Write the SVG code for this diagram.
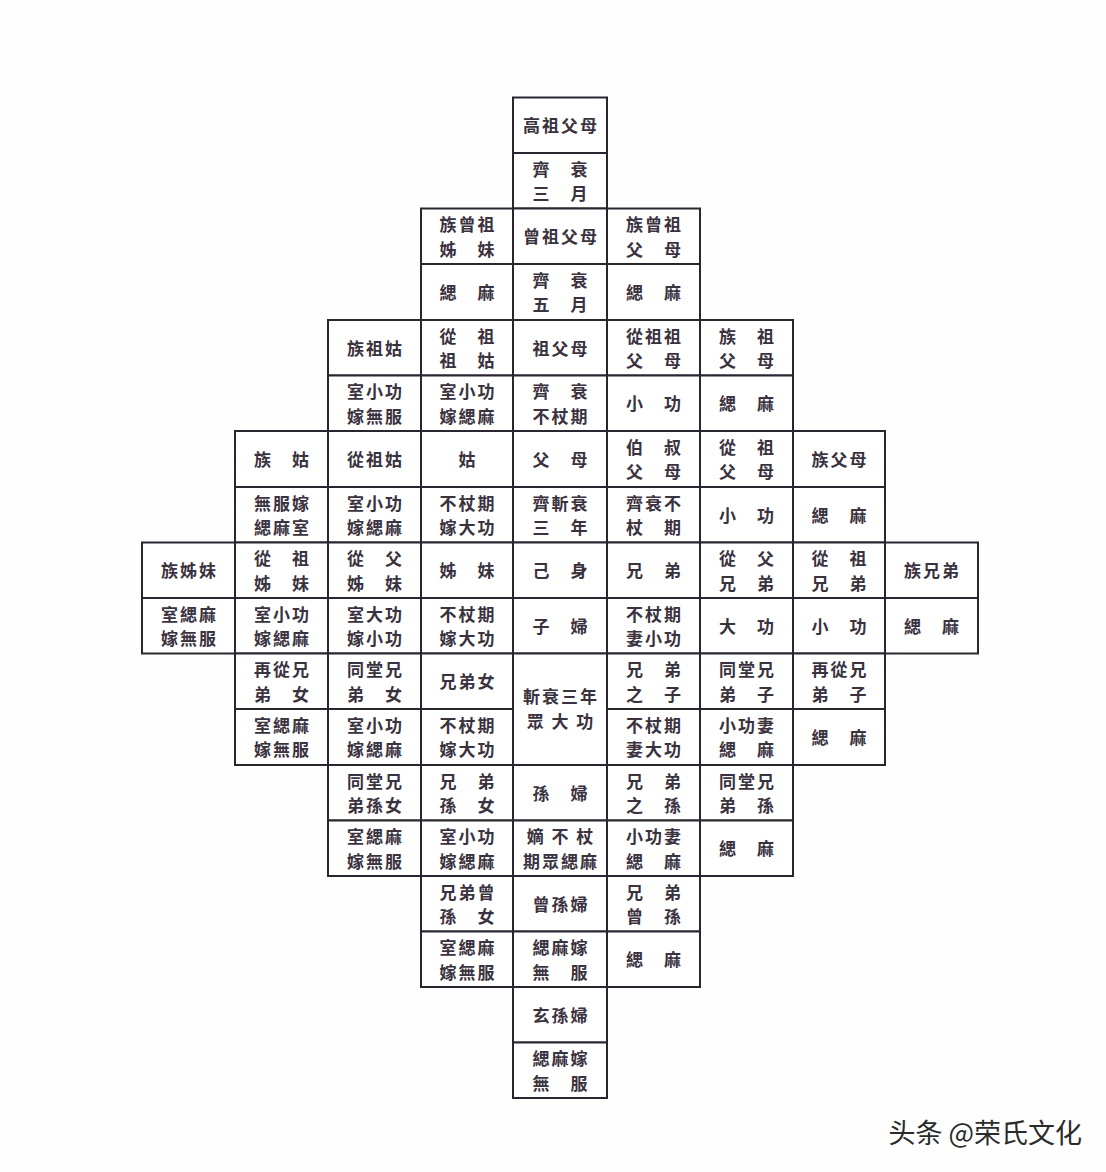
<svg xmlns="http://www.w3.org/2000/svg" width="1106" height="1172" viewBox="0 0 1106 1172">
<style>
.cell rect{fill:#fff;stroke:#2b2530;stroke-width:2}
.cell text{font-family:"Noto Sans CJK TC","Noto Sans CJK JP",sans-serif;font-size:17px;letter-spacing:2px;font-weight:700;text-anchor:middle;fill:#3a323e}
.wm{font-family:"Noto Sans CJK SC",sans-serif;font-size:27px;fill:#2a2a2a;text-anchor:end}
</style>
<rect width="1106" height="1172" fill="#fefefe"/>
<g id="chart">
<g id="r0c4" class="cell"><rect x="513" y="97.5" width="94" height="55.5"/><text x="561" y="132">高祖父母</text></g>
<g id="r1c4" class="cell"><rect x="513" y="153" width="94" height="55.5"/><text x="561" y="175.5">齊　衰<tspan x="561" dy="24.8">三　月</tspan></text></g>

<g id="r2c3" class="cell"><rect x="421" y="208.5" width="92" height="55.5"/><text x="468" y="231">族曾祖<tspan x="468" dy="24.8">姊　妹</tspan></text></g>
<g id="r2c4" class="cell"><rect x="513" y="208.5" width="94" height="55.5"/><text x="561" y="243">曾祖父母</text></g>
<g id="r2c5" class="cell"><rect x="607" y="208.5" width="93" height="55.5"/><text x="654.5" y="231">族曾祖<tspan x="654.5" dy="24.8">父　母</tspan></text></g>
<g id="r3c3" class="cell"><rect x="421" y="264" width="92" height="56"/><text x="468" y="298.5">緦　麻</text></g>
<g id="r3c4" class="cell"><rect x="513" y="264" width="94" height="56"/><text x="561" y="286.5">齊　衰<tspan x="561" dy="24.8">五　月</tspan></text></g>
<g id="r3c5" class="cell"><rect x="607" y="264" width="93" height="56"/><text x="654.5" y="298.5">緦　麻</text></g>

<g id="r4c2" class="cell"><rect x="328" y="320" width="93" height="55.5"/><text x="375.5" y="354.5">族祖姑</text></g>
<g id="r4c3" class="cell"><rect x="421" y="320" width="92" height="55.5"/><text x="468" y="342.5">從　祖<tspan x="468" dy="24.8">祖　姑</tspan></text></g>
<g id="r4c4" class="cell"><rect x="513" y="320" width="94" height="55.5"/><text x="561" y="354.5">祖父母</text></g>
<g id="r4c5" class="cell"><rect x="607" y="320" width="93" height="55.5"/><text x="654.5" y="342.5">從祖祖<tspan x="654.5" dy="24.8">父　母</tspan></text></g>
<g id="r4c6" class="cell"><rect x="700" y="320" width="93" height="55.5"/><text x="747.5" y="342.5">族　祖<tspan x="747.5" dy="24.8">父　母</tspan></text></g>
<g id="r5c2" class="cell"><rect x="328" y="375.5" width="93" height="55.5"/><text x="375.5" y="398">室小功<tspan x="375.5" dy="24.8">嫁無服</tspan></text></g>
<g id="r5c3" class="cell"><rect x="421" y="375.5" width="92" height="55.5"/><text x="468" y="398">室小功<tspan x="468" dy="24.8">嫁緦麻</tspan></text></g>
<g id="r5c4" class="cell"><rect x="513" y="375.5" width="94" height="55.5"/><text x="561" y="398">齊　衰<tspan x="561" dy="24.8">不杖期</tspan></text></g>
<g id="r5c5" class="cell"><rect x="607" y="375.5" width="93" height="55.5"/><text x="654.5" y="410">小　功</text></g>
<g id="r5c6" class="cell"><rect x="700" y="375.5" width="93" height="55.5"/><text x="747.5" y="410">緦　麻</text></g>

<g id="r6c1" class="cell"><rect x="235" y="431" width="93" height="56"/><text x="282.5" y="465.5">族　姑</text></g>
<g id="r6c2" class="cell"><rect x="328" y="431" width="93" height="56"/><text x="375.5" y="465.5">從祖姑</text></g>
<g id="r6c3" class="cell"><rect x="421" y="431" width="92" height="56"/><text x="468" y="465.5">姑</text></g>
<g id="r6c4" class="cell"><rect x="513" y="431" width="94" height="56"/><text x="561" y="465.5">父　母</text></g>
<g id="r6c5" class="cell"><rect x="607" y="431" width="93" height="56"/><text x="654.5" y="453.5">伯　叔<tspan x="654.5" dy="24.8">父　母</tspan></text></g>
<g id="r6c6" class="cell"><rect x="700" y="431" width="93" height="56"/><text x="747.5" y="453.5">從　祖<tspan x="747.5" dy="24.8">父　母</tspan></text></g>
<g id="r6c7" class="cell"><rect x="793" y="431" width="92" height="56"/><text x="840" y="465.5">族父母</text></g>
<g id="r7c1" class="cell"><rect x="235" y="487" width="93" height="55.5"/><text x="282.5" y="509.5">無服嫁<tspan x="282.5" dy="24.8">緦麻室</tspan></text></g>
<g id="r7c2" class="cell"><rect x="328" y="487" width="93" height="55.5"/><text x="375.5" y="509.5">室小功<tspan x="375.5" dy="24.8">嫁緦麻</tspan></text></g>
<g id="r7c3" class="cell"><rect x="421" y="487" width="92" height="55.5"/><text x="468" y="509.5">不杖期<tspan x="468" dy="24.8">嫁大功</tspan></text></g>
<g id="r7c4" class="cell"><rect x="513" y="487" width="94" height="55.5"/><text x="561" y="509.5">齊斬衰<tspan x="561" dy="24.8">三　年</tspan></text></g>
<g id="r7c5" class="cell"><rect x="607" y="487" width="93" height="55.5"/><text x="654.5" y="509.5">齊衰不<tspan x="654.5" dy="24.8">杖　期</tspan></text></g>
<g id="r7c6" class="cell"><rect x="700" y="487" width="93" height="55.5"/><text x="747.5" y="521.5">小　功</text></g>
<g id="r7c7" class="cell"><rect x="793" y="487" width="92" height="55.5"/><text x="840" y="521.5">緦　麻</text></g>

<g id="r8c0" class="cell"><rect x="142" y="542.5" width="93" height="55.5"/><text x="189.5" y="577">族姊妹</text></g>
<g id="r8c1" class="cell"><rect x="235" y="542.5" width="93" height="55.5"/><text x="282.5" y="565">從　祖<tspan x="282.5" dy="24.8">姊　妹</tspan></text></g>
<g id="r8c2" class="cell"><rect x="328" y="542.5" width="93" height="55.5"/><text x="375.5" y="565">從　父<tspan x="375.5" dy="24.8">姊　妹</tspan></text></g>
<g id="r8c3" class="cell"><rect x="421" y="542.5" width="92" height="55.5"/><text x="468" y="577">姊　妹</text></g>
<g id="r8c4" class="cell"><rect x="513" y="542.5" width="94" height="55.5"/><text x="561" y="577">己　身</text></g>
<g id="r8c5" class="cell"><rect x="607" y="542.5" width="93" height="55.5"/><text x="654.5" y="577">兄　弟</text></g>
<g id="r8c6" class="cell"><rect x="700" y="542.5" width="93" height="55.5"/><text x="747.5" y="565">從　父<tspan x="747.5" dy="24.8">兄　弟</tspan></text></g>
<g id="r8c7" class="cell"><rect x="793" y="542.5" width="92" height="55.5"/><text x="840" y="565">從　祖<tspan x="840" dy="24.8">兄　弟</tspan></text></g>
<g id="r8c8" class="cell"><rect x="885" y="542.5" width="93" height="55.5"/><text x="932.5" y="577">族兄弟</text></g>
<g id="r9c0" class="cell"><rect x="142" y="598" width="93" height="55.5"/><text x="189.5" y="620.5">室緦麻<tspan x="189.5" dy="24.8">嫁無服</tspan></text></g>
<g id="r9c1" class="cell"><rect x="235" y="598" width="93" height="55.5"/><text x="282.5" y="620.5">室小功<tspan x="282.5" dy="24.8">嫁緦麻</tspan></text></g>
<g id="r9c2" class="cell"><rect x="328" y="598" width="93" height="55.5"/><text x="375.5" y="620.5">室大功<tspan x="375.5" dy="24.8">嫁小功</tspan></text></g>
<g id="r9c3" class="cell"><rect x="421" y="598" width="92" height="55.5"/><text x="468" y="620.5">不杖期<tspan x="468" dy="24.8">嫁大功</tspan></text></g>
<g id="r9c4" class="cell"><rect x="513" y="598" width="94" height="55.5"/><text x="561" y="632.5">子　婦</text></g>
<g id="r9c5" class="cell"><rect x="607" y="598" width="93" height="55.5"/><text x="654.5" y="620.5">不杖期<tspan x="654.5" dy="24.8">妻小功</tspan></text></g>
<g id="r9c6" class="cell"><rect x="700" y="598" width="93" height="55.5"/><text x="747.5" y="632.5">大　功</text></g>
<g id="r9c7" class="cell"><rect x="793" y="598" width="92" height="55.5"/><text x="840" y="632.5">小　功</text></g>
<g id="r9c8" class="cell"><rect x="885" y="598" width="93" height="55.5"/><text x="932.5" y="632.5">緦　麻</text></g>

<g id="r10c1" class="cell"><rect x="235" y="653.5" width="93" height="55.5"/><text x="282.5" y="676">再從兄<tspan x="282.5" dy="24.8">弟　女</tspan></text></g>
<g id="r10c2" class="cell"><rect x="328" y="653.5" width="93" height="55.5"/><text x="375.5" y="676">同堂兄<tspan x="375.5" dy="24.8">弟　女</tspan></text></g>
<g id="r10c3" class="cell"><rect x="421" y="653.5" width="92" height="55.5"/><text x="468" y="688">兄弟女</text></g>
<g id="r10c4" class="cell"><rect x="513" y="653.5" width="94" height="111.5"/><text x="561" y="703">斬衰三年<tspan x="561" dy="24.8">眾 大 功</tspan></text></g>
<g id="r10c5" class="cell"><rect x="607" y="653.5" width="93" height="55.5"/><text x="654.5" y="676">兄　弟<tspan x="654.5" dy="24.8">之　子</tspan></text></g>
<g id="r10c6" class="cell"><rect x="700" y="653.5" width="93" height="55.5"/><text x="747.5" y="676">同堂兄<tspan x="747.5" dy="24.8">弟　子</tspan></text></g>
<g id="r10c7" class="cell"><rect x="793" y="653.5" width="92" height="55.5"/><text x="840" y="676">再從兄<tspan x="840" dy="24.8">弟　子</tspan></text></g>
<g id="r11c1" class="cell"><rect x="235" y="709" width="93" height="56"/><text x="282.5" y="731.5">室緦麻<tspan x="282.5" dy="24.8">嫁無服</tspan></text></g>
<g id="r11c2" class="cell"><rect x="328" y="709" width="93" height="56"/><text x="375.5" y="731.5">室小功<tspan x="375.5" dy="24.8">嫁緦麻</tspan></text></g>
<g id="r11c3" class="cell"><rect x="421" y="709" width="92" height="56"/><text x="468" y="731.5">不杖期<tspan x="468" dy="24.8">嫁大功</tspan></text></g>
<g id="r11c5" class="cell"><rect x="607" y="709" width="93" height="56"/><text x="654.5" y="731.5">不杖期<tspan x="654.5" dy="24.8">妻大功</tspan></text></g>
<g id="r11c6" class="cell"><rect x="700" y="709" width="93" height="56"/><text x="747.5" y="731.5">小功妻<tspan x="747.5" dy="24.8">緦　麻</tspan></text></g>
<g id="r11c7" class="cell"><rect x="793" y="709" width="92" height="56"/><text x="840" y="743.5">緦　麻</text></g>

<g id="r12c2" class="cell"><rect x="328" y="765" width="93" height="55.5"/><text x="375.5" y="787.5">同堂兄<tspan x="375.5" dy="24.8">弟孫女</tspan></text></g>
<g id="r12c3" class="cell"><rect x="421" y="765" width="92" height="55.5"/><text x="468" y="787.5">兄　弟<tspan x="468" dy="24.8">孫　女</tspan></text></g>
<g id="r12c4" class="cell"><rect x="513" y="765" width="94" height="55.5"/><text x="561" y="799.5">孫　婦</text></g>
<g id="r12c5" class="cell"><rect x="607" y="765" width="93" height="55.5"/><text x="654.5" y="787.5">兄　弟<tspan x="654.5" dy="24.8">之　孫</tspan></text></g>
<g id="r12c6" class="cell"><rect x="700" y="765" width="93" height="55.5"/><text x="747.5" y="787.5">同堂兄<tspan x="747.5" dy="24.8">弟　孫</tspan></text></g>
<g id="r13c2" class="cell"><rect x="328" y="820.5" width="93" height="55.5"/><text x="375.5" y="843">室緦麻<tspan x="375.5" dy="24.8">嫁無服</tspan></text></g>
<g id="r13c3" class="cell"><rect x="421" y="820.5" width="92" height="55.5"/><text x="468" y="843">室小功<tspan x="468" dy="24.8">嫁緦麻</tspan></text></g>
<g id="r13c4" class="cell"><rect x="513" y="820.5" width="94" height="55.5"/><text x="561" y="843">嫡 不 杖<tspan x="561" dy="24.8">期眾緦麻</tspan></text></g>
<g id="r13c5" class="cell"><rect x="607" y="820.5" width="93" height="55.5"/><text x="654.5" y="843">小功妻<tspan x="654.5" dy="24.8">緦　麻</tspan></text></g>
<g id="r13c6" class="cell"><rect x="700" y="820.5" width="93" height="55.5"/><text x="747.5" y="855">緦　麻</text></g>

<g id="r14c3" class="cell"><rect x="421" y="876" width="92" height="55.5"/><text x="468" y="898.5">兄弟曾<tspan x="468" dy="24.8">孫　女</tspan></text></g>
<g id="r14c4" class="cell"><rect x="513" y="876" width="94" height="55.5"/><text x="561" y="910.5">曾孫婦</text></g>
<g id="r14c5" class="cell"><rect x="607" y="876" width="93" height="55.5"/><text x="654.5" y="898.5">兄　弟<tspan x="654.5" dy="24.8">曾　孫</tspan></text></g>
<g id="r15c3" class="cell"><rect x="421" y="931.5" width="92" height="55.5"/><text x="468" y="954">室緦麻<tspan x="468" dy="24.8">嫁無服</tspan></text></g>
<g id="r15c4" class="cell"><rect x="513" y="931.5" width="94" height="55.5"/><text x="561" y="954">緦麻嫁<tspan x="561" dy="24.8">無　服</tspan></text></g>
<g id="r15c5" class="cell"><rect x="607" y="931.5" width="93" height="55.5"/><text x="654.5" y="966">緦　麻</text></g>

<g id="r16c4" class="cell"><rect x="513" y="987" width="94" height="55.5"/><text x="561" y="1021.5">玄孫婦</text></g>
<g id="r17c4" class="cell"><rect x="513" y="1042.5" width="94" height="55.5"/><text x="561" y="1065">緦麻嫁<tspan x="561" dy="24.8">無　服</tspan></text></g>
</g>
<g id="connectors"/>
<text class="wm" x="1082" y="1143">头条 @荣氏文化</text>
</svg>
